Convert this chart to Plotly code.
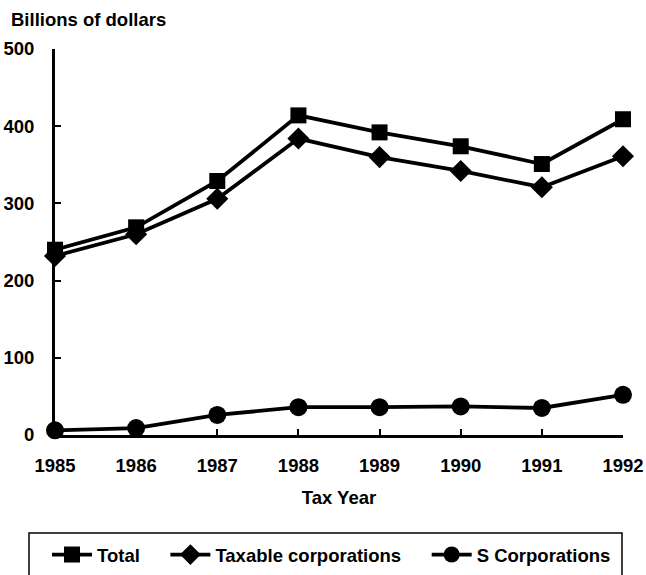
import plotly.graph_objects as go

years = [1985, 1986, 1987, 1988, 1989, 1990, 1991, 1992]
total = [240, 269, 329, 414, 392, 374, 351, 409]
taxable = [232, 260, 306, 384, 360, 342, 321, 361]
s_corp = [6, 9, 26, 36, 36, 37, 35, 52]
y_ticks = [0, 100, 200, 300, 400, 500]
names = ["Total", "Taxable corporations", "S Corporations"]

FONT = "Liberation Sans, Arial, sans-serif"
FS = 18.5
W, H = 646, 575
ML, MR, MT, MB = 55, 23, 49, 140
PW, PH = W - ML - MR, H - MT - MB


def px(fx):
    return (fx - ML) / PW


def py(fy):
    return (H - MB - fy) / PH


NB = "\u00a0"
pads = [NB * 4, NB * 4, ""]

fig = go.Figure()
series = [
    (total, "square", 16),
    (taxable, "diamond", 17),
    (s_corp, "circle", 18),
]
for (vals, sym, sz), nm, pad in zip(series, names, pads):
    fig.add_trace(go.Scatter(
        x=years, y=vals, name=nm + pad, mode="lines+markers",
        line=dict(color="black", width=3.8),
        marker=dict(symbol=sym, size=sz, color="black"),
        cliponaxis=False, hoverinfo="skip",
    ))

fig.update_layout(
    width=W, height=H,
    paper_bgcolor="white", plot_bgcolor="white",
    margin=dict(l=ML, r=MR, t=MT, b=MB, autoexpand=False),
    font=dict(family=FONT, size=FS, color="black", weight="bold"),
    showlegend=True,
    legend=dict(
        orientation="h", xref="container", yref="container",
        x=47/W, y=1-555/H, xanchor="left", yanchor="middle",
        borderwidth=0, bgcolor="rgba(0,0,0,0)",
        font=dict(family=FONT, size=FS, color="black", weight="bold"),
        itemwidth=40, tracegroupgap=0,
    ),
    shapes=[
        dict(type="rect", xref="paper", yref="paper",
             x0=px(29), x1=px(622), y0=py(585), y1=py(533),
             line=dict(color="black", width=1.5), fillcolor="rgba(0,0,0,0)",
             layer="below"),
    ],
    annotations=[
        dict(text="Billions of dollars", xref="paper", yref="paper",
             x=px(9), y=py(20), xanchor="left", yanchor="middle",
             showarrow=False, font=dict(family=FONT, size=FS, weight="bold")),
    ],
)
fig.update_xaxes(
    range=[1985, 1992], tickmode="array", tickvals=years,
    ticktext=[str(y) for y in years],
    showgrid=False, zeroline=False, showline=True, linecolor="black", linewidth=3,
    ticks="inside", ticklen=6, tickwidth=2, tickcolor="black",
    ticklabelstandoff=12, automargin=False,
    tickfont=dict(family=FONT, size=FS, weight="bold"),
    title=dict(text="Tax Year", standoff=16, font=dict(family=FONT, size=FS, weight="bold")),
)
fig.update_yaxes(
    range=[0, 500], tickmode="array", tickvals=y_ticks,
    showgrid=False, zeroline=False, showline=True, linecolor="black", linewidth=3,
    ticks="inside", ticklen=6, tickwidth=2, tickcolor="black",
    ticklabelstandoff=14, automargin=False,
    tickfont=dict(family=FONT, size=FS, weight="bold"),
)

fig.write_html(
    "out.html",
    config={"displayModeBar": False},
    post_script="document.body.style.margin='0px';document.body.style.overflow='hidden';",
)
